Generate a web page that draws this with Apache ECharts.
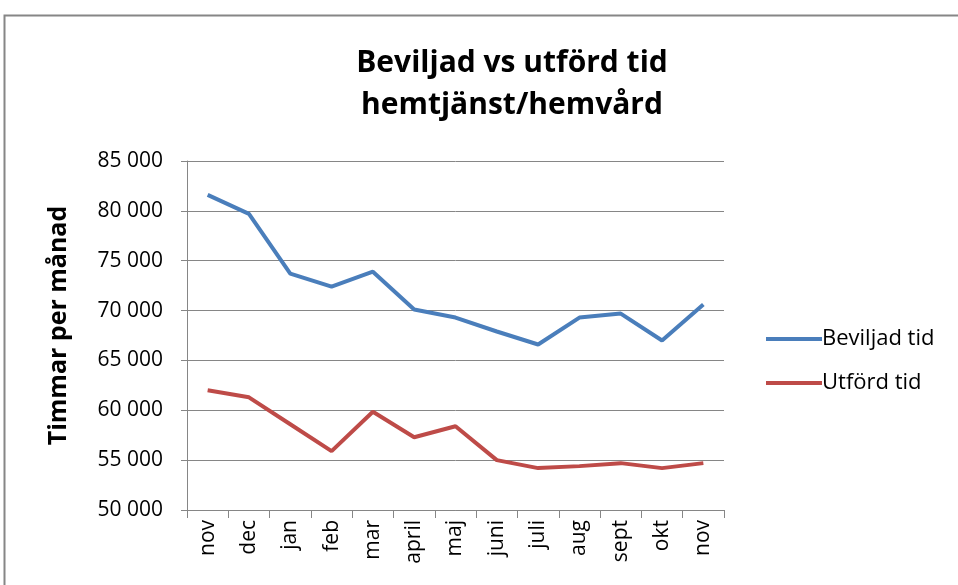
<!DOCTYPE html>
<html><head><meta charset="utf-8">
<script src="https://cdn.jsdelivr.net/npm/echarts@6/dist/echarts.min.js"></script>
<style>html,body{margin:0;padding:0;background:#fff}#c{width:958px;height:585px}</style>
</head><body><div id="c"></div>
<script>
const categories = ['nov','dec','jan','feb','mar','april','maj','juni','juli','aug','sept','okt','nov'];
const beviljad = [81600, 79700, 73700, 72400, 73900, 70100, 69300, 67900, 66600, 69300, 69700, 67000, 70600];
const utford = [62000, 61300, 58600, 55900, 59850, 57300, 58400, 55000, 54200, 54400, 54700, 54200, 54700];
const yTicks = {min: 50000, max: 85000, interval: 5000};
const titleText = 'Beviljad vs utförd tid\nhemtjänst/hemvård';
const yName = 'Timmar per månad';

const chart = echarts.init(document.getElementById('c'));
const font = 'Open Sans';
chart.setOption({
  animation: false,
  backgroundColor: '#fff',
  graphic: [{type: 'rect', shape: {x: 4.5, y: 15.5, width: 960, height: 600}, style: {fill: 'none', stroke: '#868686', lineWidth: 2}}],
  title: {text: titleText, left: 507, top: 37, textAlign: 'center',
    textStyle: {fontFamily: font, fontWeight: 'bold', fontSize: 30, lineHeight: 42, color: '#000'}},
  legend: {orient: 'vertical', left: 761, top: 323, itemWidth: 56, itemHeight: 4, itemGap: 22,
    icon: 'rect',
    textStyle: {fontFamily: font, fontSize: 22, color: '#000', padding: [0, 0, 0, -5]},
    data: ['Beviljad tid', 'Utförd tid']},
  grid: {left: 187, top: 161, right: 234, bottom: 75, containLabel: false},
  xAxis: {type: 'category', data: categories, boundaryGap: true,
    axisLine: {lineStyle: {color: '#868686', width: 1}},
    axisTick: {show: true, length: 8, alignWithLabel: false, lineStyle: {color: '#868686'}},
    axisLabel: {rotate: 90, fontFamily: font, fontSize: 21, color: '#000', margin: 10, interval: 0}},
  yAxis: {type: 'value', min: yTicks.min, max: yTicks.max, interval: yTicks.interval,
    name: yName, nameLocation: 'middle', nameGap: 116, nameRotate: 90,
    nameTextStyle: {fontFamily: font, fontWeight: 'bold', fontSize: 25, color: '#000', padding: [0, 0, 0, 20]},
    axisLine: {show: true, lineStyle: {color: '#868686'}},
    axisTick: {show: true, length: 6, inside: false, lineStyle: {color: '#868686'}},
    splitLine: {lineStyle: {color: '#868686', width: 1}},
    axisLabel: {fontFamily: font, fontSize: 21, color: '#000', margin: 24,
      formatter: v => String(v).replace(/\B(?=(\d{3})+(?!\d))/g, '\u00a0')}},
  series: [
    {name: 'Beviljad tid', type: 'line', data: beviljad, symbol: 'none',
      lineStyle: {color: '#4A7EBB', width: 4}, itemStyle: {color: '#4A7EBB'}},
    {name: 'Utförd tid', type: 'line', data: utford, symbol: 'none',
      lineStyle: {color: '#BE4B48', width: 4}, itemStyle: {color: '#BE4B48'}}
  ]
});
</script></body></html>
